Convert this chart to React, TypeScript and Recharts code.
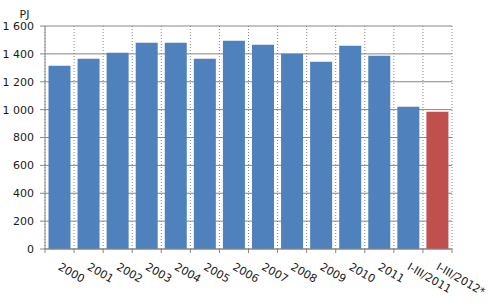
import React from 'react';
import { BarChart, Bar, XAxis, YAxis, CartesianGrid, Cell } from 'recharts';

const categories = [
  '2000', '2001', '2002', '2003', '2004', '2005', '2006', '2007',
  '2008', '2009', '2010', '2011', 'I-III/2011', 'I-III/2012*',
];
const energyPJ = [1315, 1365, 1408, 1480, 1480, 1365, 1494, 1465, 1401, 1344, 1458, 1387, 1021, 985];
const barColors = [
  '#4f81bd', '#4f81bd', '#4f81bd', '#4f81bd', '#4f81bd', '#4f81bd', '#4f81bd',
  '#4f81bd', '#4f81bd', '#4f81bd', '#4f81bd', '#4f81bd', '#4f81bd', '#c0504d',
];
const yTicks = [0, 200, 400, 600, 800, 1000, 1200, 1400, 1600];

const data = categories.map((name, i) => ({ name, value: energyPJ[i] }));

const FONT = '"DejaVu Sans", Verdana, sans-serif';
const GRID = '#868686';
const TEXT = '#1a1a1a';

// 1600 -> "1 600"
const formatThousands = (v: number) =>
  v >= 1000 ? `${Math.floor(v / 1000)} ${String(v % 1000).padStart(3, '0')}` : String(v);

// dotted vertical lines between categories (band edges), incl. the right edge
const bandEdges = ({ offset }: any) =>
  Array.from({ length: categories.length + 1 }, (_, i) => offset.left + (i * offset.width) / categories.length);

const SlantedTick = (props: any) => {
  const { x, y, payload, index } = props;
  const half = payload.offset || 0;
  const isLast = index === categories.length - 1;
  return (
    <g>
      <line x1={x - half} x2={x - half} y1={y} y2={y + 4} stroke={GRID} />
      {isLast && <line x1={x + half} x2={x + half} y1={y} y2={y + 4} stroke={GRID} />}
      <g transform={`translate(${x - 2},${y + 20}) rotate(30)`}>
        <text x={0} y={0} textAnchor="start" fontSize={11} fontFamily={FONT} fill={TEXT}>
          {payload.value}
        </text>
      </g>
    </g>
  );
};

export default function App() {
  return (
    <div style={{ position: 'absolute', left: 0, top: 0, width: 493, height: 304, background: '#fff' }}>
      <BarChart
        width={493}
        height={304}
        data={data}
        margin={{ top: 26, right: 41, left: 0, bottom: 0 }}
        barCategoryGap="12%"
      >
        <CartesianGrid vertical={false} stroke={GRID} />
        <CartesianGrid
          horizontal={false}
          stroke={GRID}
          strokeDasharray="1 2"
          verticalCoordinatesGenerator={bandEdges}
        />
        <XAxis
          dataKey="name"
          interval={0}
          height={55}
          stroke={GRID}
          tickLine={false}
          tickSize={0}
          tickMargin={0}
          tick={<SlantedTick />}
        />
        <YAxis
          width={45}
          domain={[0, 1600]}
          ticks={yTicks}
          interval={0}
          tickFormatter={formatThousands}
          tickSize={5}
          tickMargin={6}
          stroke={GRID}
          tick={{ fill: TEXT, fontSize: 11, fontFamily: FONT }}
          label={{ value: 'PJ', position: 'top', dx: 2, offset: 8, fill: TEXT, fontSize: 11, fontFamily: FONT }}
        />
        <Bar dataKey="value" isAnimationActive={false}>
          {data.map((d, i) => (
            <Cell key={d.name} fill={barColors[i]} />
          ))}
        </Bar>
      </BarChart>
    </div>
  );
}
